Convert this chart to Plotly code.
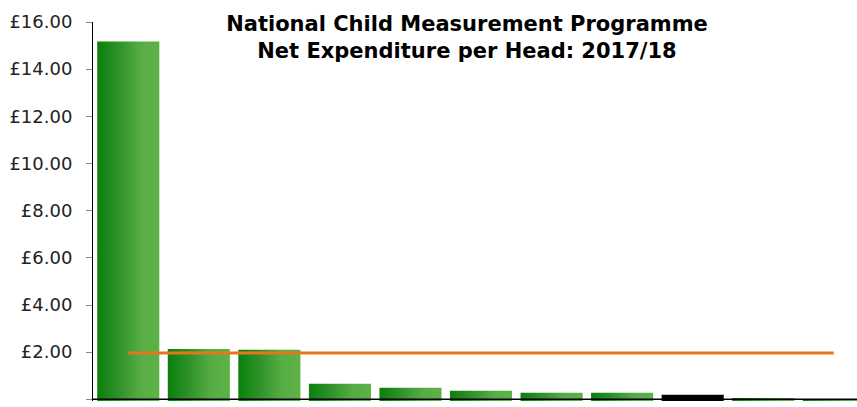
import plotly.graph_objects as go

# Data
authorities = ["Authority %d" % (i + 1) for i in range(11)]
net_expenditure = [15.17, 2.14, 2.10, 0.66, 0.49, 0.36, 0.28, 0.28, 0.19, 0.06, 0.02]
highlight = [False, False, False, False, False, False, False, False, True, False, False]
average_value = 1.96
y_tick_step = 2
y_max = 16

# Styling
BAR_FRACTION = 0.88
BAR_BASE = -0.07          # bars are drawn from just under the axis line, as in the reference
GREEN_SCALE = [[0.0, "#0a800a"], [0.35, "#2f922a"], [0.7, "#56ad44"], [1.0, "#5db247"]]

fig = go.Figure()

for i, (name, val, hl) in enumerate(zip(authorities, net_expenditure, highlight)):
    x0, x1 = i - BAR_FRACTION / 2, i + BAR_FRACTION / 2
    trace = dict(
        x=[x0, x1, x1, x0, x0],
        y=[BAR_BASE, BAR_BASE, val, val, BAR_BASE],
        mode="lines",
        fill="toself",
        line=dict(width=0),
        name=name,
        hoveron="fills",
        text="%s: £%.2f" % (name, val),
        hoverinfo="text",
        showlegend=False,
    )
    if hl:
        trace["fillcolor"] = "#000000"
    else:
        trace["fillgradient"] = dict(type="horizontal", colorscale=GREEN_SCALE)
    fig.add_trace(go.Scatter(**trace))

fig.add_trace(go.Scatter(
    x=[0, len(authorities) - 1],
    y=[average_value, average_value],
    mode="lines",
    line=dict(color="#e6761e", width=3),
    name="Average",
    showlegend=False,
))

# x-axis line at y = 0, drawn above the bars
fig.add_shape(type="line", xref="paper", yref="y", x0=0, x1=1, y0=0, y1=0,
              line=dict(color="#000000", width=1.5), layer="above")

W, H = 857, 407
left, top, bottom = 93, 22, 6
band = 70.55
x_max = (W - left) / band - 0.5

fig.update_layout(
    width=W, height=H,
    margin=dict(l=left, r=0, t=top, b=bottom, autoexpand=False),
    paper_bgcolor="white", plot_bgcolor="white",
    font=dict(family="Verdana, DejaVu Sans, sans-serif", color="#222222"),
    title=dict(
        text="<b>National Child Measurement Programme<br>Net Expenditure per Head: 2017/18</b>",
        font=dict(size=21, color="#000000", family="Verdana, DejaVu Sans, sans-serif"),
        x=467 / W, xanchor="center", xref="container",
        y=1 - 31 / H, yanchor="top", yref="container",
    ),
    xaxis=dict(
        range=[-0.5, x_max],
        showgrid=False, zeroline=False,
        showticklabels=False, ticks="",
        showline=False,
        fixedrange=True,
    ),
    yaxis=dict(
        range=[BAR_BASE, y_max],
        tickmode="linear", tick0=0, dtick=y_tick_step,
        tickprefix="£", showtickprefix="all", tickformat=".2f",
        showgrid=False, zeroline=False,
        ticks="outside", ticklen=6, tickcolor="#888888", tickwidth=1,
        showline=True, linecolor="#000000", linewidth=1,
        tickfont=dict(size=18, color="#222222"),
        ticklabelstandoff=10,
    ),
)

fig.write_html(
    "out.html",
    config={"displayModeBar": False},
    post_script="document.body.style.margin='0';document.body.style.overflow='hidden';",
)
